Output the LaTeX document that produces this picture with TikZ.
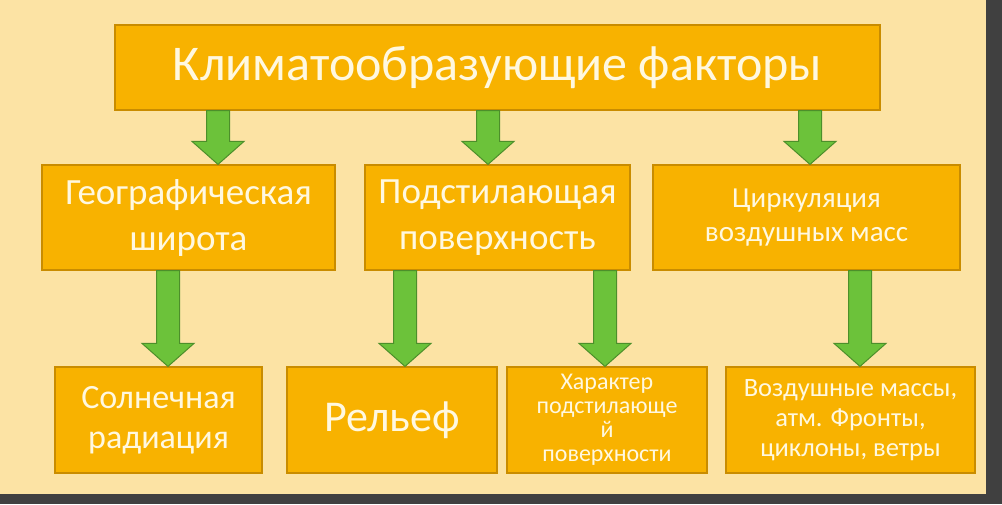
\documentclass[tikz,border=0pt]{standalone}
\usepackage{fontspec}
\setmainfont{Carlito}
\usetikzlibrary{calc}
\definecolor{bg}{HTML}{FCE3A4}
\definecolor{bx}{HTML}{F8B200}
\definecolor{bxd}{HTML}{C98C00}
\definecolor{gr}{HTML}{6CC23A}
\definecolor{grd}{HTML}{4C8F2A}
\definecolor{tx}{HTML}{FFF8E0}
\tikzset{
 box/.style={draw=bxd,line width=1.2pt,fill=bx,text=tx,align=center,inner sep=0pt},
 garrowst/.style={fill=gr,draw=grd,line width=1pt,line join=miter}
}
\newcommand\garrow[3]{\path let \p1=(#2.south), \p2=(#3.north) in
 [garrowst] ({#1pt-11.5pt},\y1) -- ({#1pt+11.5pt},\y1) -- ({#1pt+11.5pt},\y2+23pt) -- ({#1pt+26pt},\y2+23pt) -- (#1pt,\y2) -- ({#1pt-26pt},\y2+23pt) -- ({#1pt-11.5pt},\y2+23pt) -- cycle;}
\begin{document}
\begin{tikzpicture}[x=1pt,y=-1pt]
\fill[black!75] (0,0) rectangle (1002,504);
\fill[bg] (0,0) rectangle (986,494);
\useasboundingbox (0,0) rectangle (1002,504);
\node[box,minimum width=765pt,minimum height=85pt,font=\fontsize{50}{54}\selectfont] (t) at (497.5,67.5) {Климатообразующие факторы};
\node[box,minimum width=293pt,minimum height=105pt,font=\fontsize{37}{46}\selectfont] (b1) at (188.5,217.5) {Географическая\\широта};
\node[box,minimum width=265pt,minimum height=105pt,font=\fontsize{37}{46}\selectfont] (b2) at (497.5,217.5) {Подстилающая\\поверхность};
\node[box,minimum width=307pt,minimum height=105pt,font=\fontsize{29}{34}\selectfont] (b3) at (806.5,217.5) {Циркуляция\\воздушных масс};
\node[box,minimum width=207pt,minimum height=106pt,font=\fontsize{34}{40}\selectfont] (c1) at (158.5,420) {Солнечная\\радиация};
\node[box,minimum width=210pt,minimum height=106pt,font=\fontsize{44}{50}\selectfont] (c2) at (392,420) {Рельеф};
\node[box,minimum width=200pt,minimum height=106pt,font=\fontsize{24}{24}\selectfont] (c3) at (607,420) {Характер\\подстилающе\\й\\поверхности};
\node[box,minimum width=249pt,minimum height=106pt,font=\fontsize{26.5}{30}\selectfont] (c4) at (850.5,420) {Воздушные массы,\\атм. Фронты,\\циклоны, ветры};
\garrow{218}{t}{b1}
\garrow{488}{t}{b2}
\garrow{810}{t}{b3}
\garrow{168}{b1}{c1}
\garrow{405}{b2}{c2}
\garrow{605}{b2}{c3}
\garrow{860}{b3}{c4}
\end{tikzpicture}
\end{document}
